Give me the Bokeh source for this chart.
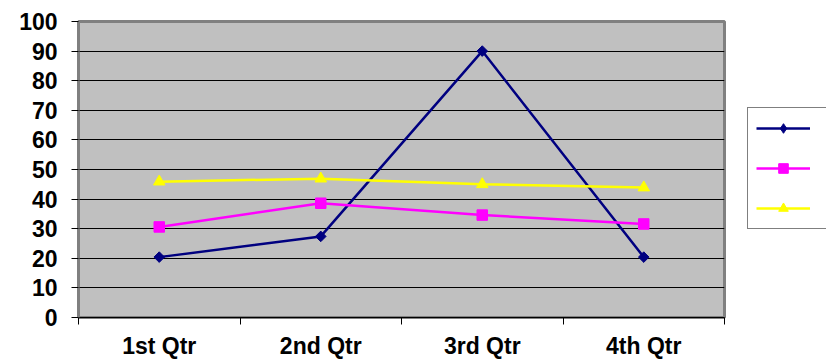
import math
from bokeh.plotting import figure
from bokeh.layouts import row
from bokeh.models import Range1d, FixedTicker, Legend, LegendItem
from bokeh.embed import file_html
from bokeh.resources import INLINE

categories = ["1st Qtr", "2nd Qtr", "3rd Qtr", "4th Qtr"]
east = [20.4, 27.4, 90, 20.4]
west = [30.6, 38.6, 34.6, 31.6]
north = [45.9, 46.9, 45, 43.9]
y_ticks = [0, 10, 20, 30, 40, 50, 60, 70, 80, 90, 100]

xs = [i + 0.5 for i in range(len(categories))]
bounds = list(range(len(categories) + 1))

NAVY, MAGENTA, YELLOW = "#000080", "#FF00FF", "#FFFF00"
LW = 2.5

p = figure(frame_width=646, frame_height=296, output_backend="svg", toolbar_location=None,
           x_range=Range1d(0, len(categories)), y_range=Range1d(0, 100),
           min_border_left=78, min_border_right=2, min_border_top=21,
           min_border_bottom=30)
p.background_fill_color = "#C0C0C0"
p.border_fill_color = "white"
p.outline_line_color = "#808080"
p.outline_line_width = 3

p.xgrid.visible = False
p.ygrid.ticker = FixedTicker(ticks=y_ticks)
p.ygrid.grid_line_color = "black"
p.ygrid.grid_line_width = 1

FONT = "Liberation Sans"
ya = p.yaxis[0]
ya.ticker = FixedTicker(ticks=y_ticks)
ya.major_label_text_font = FONT
ya.major_label_text_font_style = "bold"
ya.major_label_text_font_size = "23px"
ya.major_label_text_color = "black"
ya.major_tick_out = 7
ya.major_tick_in = 0
ya.major_tick_line_color = "black"
ya.minor_tick_line_color = None
ya.axis_line_color = "#808080"
ya.axis_line_width = 2
ya.major_label_standoff = 14

xa = p.xaxis[0]
xa.ticker = FixedTicker(ticks=xs, minor_ticks=bounds)
xa.major_label_overrides = {x: c for x, c in zip(xs, categories)}
xa.major_label_text_font = FONT
xa.major_label_text_font_style = "bold"
xa.major_label_text_font_size = "23px"
xa.major_label_text_color = "black"
xa.major_tick_out = 0
xa.major_tick_in = 0
xa.minor_tick_out = 7
xa.minor_tick_in = 0
xa.minor_tick_line_color = "black"
xa.axis_line_color = "black"
xa.axis_line_width = 1
xa.major_label_standoff = 8


def add_series(fig, ys, color, marker, size, angle=0.0):
    ln = fig.line(xs, ys, line_color=color, line_width=LW)
    mk = fig.scatter(xs, ys, marker=marker, size=size, angle=angle,
                     fill_color=color, line_color=color)
    return ln, mk


add_series(p, east, NAVY, "square", 7.5, math.pi / 4)
add_series(p, west, MAGENTA, "square", 10.5)
add_series(p, north, YELLOW, "triangle", 11.5)

# legend panel (key only, no labels, as in the original); its series lie
# outside its view range, so only the key glyphs show
q = figure(frame_width=100, frame_height=296, output_backend="svg", toolbar_location=None,
           x_axis_type=None, y_axis_type=None,
           min_border_left=0, min_border_right=0, min_border_bottom=30,
           min_border_top=21,
           x_range=Range1d(0, 1), y_range=Range1d(-2, -1))
q.outline_line_color = None
q.background_fill_color = "white"
q.border_fill_color = "white"
r1 = add_series(q, east, NAVY, "diamond", 10)
r2 = add_series(q, west, MAGENTA, "square", 10.5)
r3 = add_series(q, north, YELLOW, "triangle", 11.5)

legend = Legend(items=[LegendItem(label=" ", renderers=list(r1)),
                       LegendItem(label=" ", renderers=list(r2)),
                       LegendItem(label=" ", renderers=list(r3))],
                location=(21, 88), glyph_width=54, glyph_height=24,
                label_width=0, label_height=0, label_standoff=9,
                label_text_font_size="1px",
                spacing=16, padding=8, margin=0,
                border_line_color="black", border_line_width=1,
                background_fill_color="white")
q.add_layout(legend, "center")

layout = row(p, q)
open("out.html", "w").write(file_html(layout, INLINE))
